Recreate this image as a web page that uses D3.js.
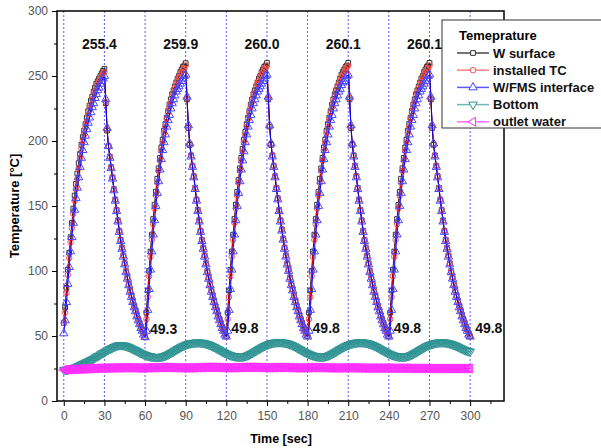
<!DOCTYPE html>
<html>
<head>
<meta charset="utf-8">
<script src="https://cdn.jsdelivr.net/npm/d3@7"></script>
<style>
  body { margin: 0; background: #fff; }
  svg { display: block; font-family: "Liberation Sans", Arial, sans-serif; }
</style>
</head>
<body>
<svg id="chart" width="601" height="448"></svg>
<script>
// all series sampled every 1 s, t = 0..300
const wSurface = [
  60, 72, 87, 101, 114, 126, 137, 148, 158, 167,
  175, 183, 190, 197, 203, 208, 213, 218, 223, 227,
  231, 234, 238, 241, 244, 246, 248, 250, 252, 254, 255.4,
  229, 208, 196, 188, 180, 172, 163, 155, 147, 139,
  131, 124, 118, 112, 106, 100, 95, 90, 85, 81,
  77, 73, 70, 66, 63, 60, 57, 55, 52, 49.3,
  68, 85, 100, 115, 128, 140, 151, 161, 171, 179,
  187, 195, 201, 208, 213, 218, 223, 228, 232, 236,
  239, 242, 245, 248, 250, 253, 255, 257, 258, 259.9,
  232, 210, 197, 189, 181, 173, 164, 155, 147, 139,
  131, 124, 118, 112, 106, 100, 95, 90, 85, 81,
  77, 73, 70, 66, 63, 60, 57, 55, 52, 49.8,
  68, 85, 101, 115, 128, 140, 151, 161, 170, 179,
  187, 194, 201, 207, 213, 218, 223, 228, 232, 236,
  239, 242, 245, 248, 250, 253, 255, 257, 258, 260.0,
  232, 211, 197, 189, 181, 173, 164, 156, 147, 139,
  132, 125, 118, 112, 106, 101, 95, 90, 86, 81,
  77, 73, 70, 66, 63, 60, 57, 55, 52, 49.8,
  68, 85, 100, 115, 128, 140, 151, 161, 171, 179,
  187, 195, 201, 208, 213, 218, 223, 228, 232, 236,
  239, 242, 245, 248, 251, 253, 255, 257, 258, 260.1,
  232, 210, 197, 189, 181, 173, 164, 155, 147, 139,
  131, 124, 118, 112, 106, 100, 95, 90, 85, 81,
  77, 73, 70, 66, 63, 60, 57, 55, 52, 49.8,
  68, 85, 101, 115, 128, 140, 151, 161, 171, 179,
  187, 195, 201, 208, 213, 218, 223, 228, 232, 236,
  239, 242, 245, 248, 250, 253, 255, 257, 258, 260.1,
  232, 210, 197, 189, 181, 173, 164, 155, 147, 139,
  131, 124, 118, 112, 106, 100, 95, 90, 85, 81,
  77, 73, 70, 66, 63, 60, 57, 55, 52, 49.8
];

const installedTC = [
  60, 68, 83, 97, 110, 122, 133, 144, 154, 163,
  171, 179, 187, 194, 200, 205, 210, 215, 220, 224,
  228, 232, 235, 238, 241, 244, 246, 248, 250, 252, 253,
  230, 209, 196, 188, 180, 172, 163, 155, 147, 139,
  131, 124, 118, 112, 106, 100, 95, 90, 85, 81,
  77, 73, 70, 66, 63, 60, 57, 54, 52, 49.2,
  63, 80, 96, 111, 124, 136, 148, 158, 168, 177,
  185, 193, 199, 206, 211, 217, 222, 226, 230, 234,
  237, 241, 244, 246, 249, 251, 253, 255, 256, 258,
  233, 211, 198, 189, 181, 173, 164, 155, 147, 139,
  131, 124, 118, 112, 106, 100, 95, 90, 85, 81,
  77, 73, 70, 66, 63, 60, 57, 54, 52, 49.6,
  63, 80, 96, 111, 124, 137, 148, 158, 168, 177,
  185, 192, 199, 205, 211, 217, 222, 226, 230, 234,
  237, 241, 244, 246, 249, 251, 253, 255, 256, 258,
  233, 211, 198, 189, 181, 173, 164, 156, 147, 139,
  132, 125, 118, 112, 106, 101, 95, 90, 86, 81,
  77, 73, 70, 66, 63, 60, 57, 54, 52, 49.6,
  63, 80, 96, 111, 124, 136, 148, 158, 168, 177,
  185, 193, 199, 206, 211, 217, 222, 226, 230, 234,
  237, 241, 244, 246, 249, 251, 253, 255, 257, 258,
  233, 211, 198, 189, 181, 173, 164, 155, 147, 139,
  131, 124, 118, 112, 106, 100, 95, 90, 85, 81,
  77, 73, 70, 66, 63, 60, 57, 54, 52, 49.6,
  63, 80, 96, 111, 124, 136, 148, 158, 168, 177,
  185, 193, 199, 206, 211, 217, 222, 226, 230, 234,
  237, 241, 244, 246, 249, 251, 253, 255, 256, 258,
  233, 211, 198, 189, 181, 173, 164, 155, 147, 139,
  131, 124, 118, 112, 106, 100, 95, 90, 85, 81,
  77, 73, 70, 66, 63, 60, 57, 54, 52, 49.6
];

const wfmsInterface = [
  52, 62, 76, 90, 103, 115, 126, 137, 147, 156,
  164, 172, 180, 187, 193, 199, 204, 209, 214, 218,
  222, 226, 229, 233, 236, 239, 241, 244, 246, 248, 250,
  232, 210, 196, 187, 179, 171, 162, 154, 146, 138,
  130, 123, 117, 111, 105, 99, 94, 89, 84, 80,
  76, 72, 69, 65, 62, 59, 56, 54, 51, 49.0,
  54, 70, 86, 101, 115, 128, 139, 150, 160, 169,
  178, 186, 193, 199, 205, 211, 216, 220, 225, 229,
  232, 235, 238, 240, 242, 244, 246, 248, 250, 251,
  234, 212, 198, 188, 180, 172, 163, 154, 146, 138,
  130, 123, 117, 111, 105, 99, 94, 89, 84, 80,
  76, 72, 69, 65, 62, 59, 56, 54, 51, 49.5,
  54, 70, 86, 101, 115, 128, 139, 150, 160, 169,
  178, 185, 192, 199, 205, 211, 216, 220, 225, 229,
  232, 235, 238, 240, 242, 244, 246, 248, 250, 251,
  234, 212, 198, 188, 180, 172, 163, 155, 146, 138,
  131, 124, 117, 111, 105, 100, 94, 89, 85, 80,
  76, 72, 69, 65, 62, 59, 56, 54, 51, 49.5,
  54, 70, 86, 101, 115, 128, 139, 150, 160, 169,
  178, 186, 193, 199, 205, 211, 216, 220, 225, 229,
  232, 235, 238, 240, 243, 245, 246, 248, 250, 251,
  234, 212, 198, 188, 180, 172, 163, 154, 146, 138,
  130, 123, 117, 111, 105, 99, 94, 89, 84, 80,
  76, 72, 69, 65, 62, 59, 56, 54, 51, 49.5,
  54, 70, 86, 101, 115, 128, 139, 150, 160, 169,
  178, 186, 193, 199, 205, 211, 216, 220, 225, 229,
  232, 235, 238, 240, 242, 244, 246, 248, 250, 251,
  234, 212, 198, 188, 180, 172, 163, 154, 146, 138,
  130, 123, 117, 111, 105, 99, 94, 89, 84, 80,
  76, 72, 69, 65, 62, 59, 56, 54, 51, 49.5
];

const bottom = [
  24.0, 24.0, 24.0, 24.2, 24.5, 24.7, 25.0, 25.2, 25.5, 26.0,
  26.5, 27.0, 27.5, 28.0, 28.5, 29.0, 29.5, 30.0, 30.5, 31.0,
  31.5, 32.0, 32.5, 33.2, 34.0, 34.5, 35.0, 35.8, 36.5, 37.0,
  37.5, 38.2, 39.0, 39.5, 40.0, 40.5, 41.0, 41.5, 42.0, 42.4,
  42.8, 42.9, 43.0, 42.9, 42.8, 42.6, 42.3, 41.9, 41.5, 41.0,
  40.5, 40.0, 39.5, 39.0, 38.5, 37.9, 37.3, 36.8, 36.3, 35.9,
  35.5, 35.1, 34.8, 34.5, 34.3, 34.1, 34.0, 33.9, 33.8, 33.8,
  33.8, 33.9, 34.0, 34.2, 34.5, 34.9, 35.3, 35.8, 36.3, 36.9,
  37.5, 38.1, 38.7, 39.3, 40.0, 40.6, 41.2, 41.7, 42.3, 42.7,
  43.2, 43.6, 44.0, 44.2, 44.5, 44.6, 44.8, 44.9, 45.0, 45.0,
  45.0, 44.9, 44.8, 44.6, 44.4, 44.1, 43.8, 43.4, 43.0, 42.5,
  42.0, 41.5, 41.0, 40.4, 39.8, 39.2, 38.6, 38.0, 37.5, 37.0,
  36.5, 36.0, 35.6, 35.2, 34.9, 34.6, 34.4, 34.2, 34.1, 34.0,
  34.0, 34.0, 34.1, 34.3, 34.5, 34.8, 35.2, 35.7, 36.2, 36.8,
  37.4, 38.0, 38.6, 39.2, 39.9, 40.5, 41.1, 41.7, 42.2, 42.7,
  43.2, 43.6, 44.0, 44.3, 44.6, 44.8, 45.0, 45.1, 45.2, 45.2,
  45.2, 45.1, 45.0, 44.8, 44.6, 44.3, 44.0, 43.6, 43.2, 42.7,
  42.2, 41.7, 41.1, 40.5, 39.9, 39.3, 38.7, 38.1, 37.6, 37.1,
  36.6, 36.1, 35.7, 35.3, 35.0, 34.7, 34.4, 34.2, 34.1, 34.0,
  34.0, 34.0, 34.1, 34.3, 34.5, 34.8, 35.2, 35.7, 36.2, 36.8,
  37.4, 38.0, 38.6, 39.2, 39.9, 40.5, 41.1, 41.7, 42.2, 42.7,
  43.1, 43.5, 43.9, 44.2, 44.5, 44.7, 44.9, 45.0, 45.1, 45.1,
  45.1, 45.0, 44.9, 44.7, 44.5, 44.2, 43.9, 43.5, 43.1, 42.6,
  42.1, 41.6, 41.0, 40.4, 39.8, 39.2, 38.6, 38.0, 37.5, 37.0,
  36.5, 36.0, 35.6, 35.2, 34.9, 34.6, 34.4, 34.2, 34.1, 34.0,
  34.0, 34.0, 34.1, 34.3, 34.5, 34.8, 35.2, 35.7, 36.2, 36.8,
  37.4, 38.0, 38.6, 39.2, 39.9, 40.5, 41.1, 41.7, 42.2, 42.7,
  43.1, 43.5, 43.9, 44.2, 44.5, 44.7, 44.9, 45.0, 45.1, 45.1,
  45.1, 45.0, 44.9, 44.7, 44.5, 44.2, 43.9, 43.5, 43.1, 42.7,
  42.2, 41.7, 41.2, 40.7, 40.2, 39.7, 39.3, 38.9, 38.5, 38.2,
  38.0
];

const outletWater = [
  24.0, 24.0, 24.1, 24.1, 24.2, 24.2, 24.3, 24.3, 24.4, 24.4,
  24.5, 24.5, 24.6, 24.6, 24.7, 24.7, 24.8, 24.8, 24.9, 24.9,
  25.0, 25.0, 25.1, 25.1, 25.1, 25.2, 25.2, 25.2, 25.3, 25.3,
  25.3, 25.3, 25.4, 25.4, 25.4, 25.4, 25.4, 25.4, 25.5, 25.5,
  25.5, 25.5, 25.5, 25.6, 25.6, 25.6, 25.6, 25.6, 25.6, 25.6,
  25.5, 25.5, 25.5, 25.5, 25.4, 25.4, 25.4, 25.4, 25.4, 25.4,
  25.5, 25.5, 25.5, 25.6, 25.6, 25.6, 25.7, 25.7, 25.7, 25.7,
  25.8, 25.8, 25.8, 25.8, 25.8, 25.8, 25.8, 25.8, 25.7, 25.7,
  25.7, 25.7, 25.6, 25.6, 25.6, 25.6, 25.5, 25.5, 25.5, 25.5,
  25.5, 25.5, 25.5, 25.5, 25.5, 25.6, 25.6, 25.6, 25.7, 25.7,
  25.7, 25.8, 25.8, 25.8, 25.9, 25.9, 25.9, 25.9, 25.9, 25.9,
  25.9, 25.9, 25.8, 25.8, 25.8, 25.7, 25.7, 25.7, 25.6, 25.6,
  25.6, 25.6, 25.6, 25.6, 25.6, 25.6, 25.6, 25.7, 25.7, 25.7,
  25.8, 25.8, 25.8, 25.9, 25.9, 25.9, 25.9, 25.9, 25.9, 25.9,
  25.9, 25.9, 25.8, 25.8, 25.8, 25.7, 25.7, 25.7, 25.6, 25.6,
  25.6, 25.6, 25.6, 25.6, 25.7, 25.7, 25.7, 25.8, 25.8, 25.8,
  25.8, 25.8, 25.8, 25.8, 25.8, 25.7, 25.7, 25.7, 25.6, 25.6,
  25.6, 25.5, 25.5, 25.5, 25.5, 25.5, 25.5, 25.5, 25.6, 25.6,
  25.6, 25.6, 25.7, 25.7, 25.7, 25.7, 25.7, 25.7, 25.7, 25.7,
  25.6, 25.6, 25.6, 25.6, 25.5, 25.5, 25.5, 25.5, 25.4, 25.4,
  25.4, 25.4, 25.4, 25.4, 25.4, 25.5, 25.5, 25.5, 25.5, 25.5,
  25.5, 25.5, 25.5, 25.5, 25.5, 25.5, 25.5, 25.4, 25.4, 25.4,
  25.4, 25.3, 25.3, 25.3, 25.3, 25.3, 25.3, 25.3, 25.3, 25.3,
  25.3, 25.3, 25.3, 25.3, 25.3, 25.3, 25.3, 25.3, 25.3, 25.3,
  25.3, 25.3, 25.2, 25.2, 25.2, 25.2, 25.2, 25.2, 25.2, 25.2,
  25.2, 25.2, 25.2, 25.2, 25.2, 25.1, 25.1, 25.1, 25.1, 25.1,
  25.1, 25.1, 25.1, 25.1, 25.1, 25.1, 25.1, 25.1, 25.1, 25.1,
  25.1, 25.0, 25.0, 25.0, 25.0, 25.0, 25.0, 25.0, 25.0, 25.0,
  25.0, 25.0, 25.0, 25.0, 25.0, 25.0, 25.0, 25.0, 25.0, 25.0,
  25.0, 25.0, 25.0, 25.0, 25.0, 25.0, 25.0, 25.0, 25.0, 25.0,
  25.0
];

const peakTimes = [30, 90, 150, 210, 270];
const peakLabels = ['255.4', '259.9', '260.0', '260.1', '260.1'];
const minTimes = [60, 120, 180, 240, 300];
const minValues = [49.3, 49.8, 49.8, 49.8, 49.8];
const minLabels = ['49.3', '49.8', '49.8', '49.8', '49.8'];

const xTicks = d3.range(0, 301, 30);
const yTicks = d3.range(0, 301, 50);

const svg = d3.select('#chart');
const plot = { left: 57, top: 11, right: 504, bottom: 401 };

const x = d3.scaleLinear().domain([-5, 325]).range([plot.left, plot.right]);
const y = d3.scaleLinear().domain([0, 300]).range([plot.bottom, plot.top]);

const toPoints = (values) => values.map((v, i) => [i, v]);

const series = [
  { name: 'W surface', pts: toPoints(wSurface), line: '#000', mark: '#333', lgLine: '#444', symbol: d3.symbolSquare, size: 22, rot: 0 },
  { name: 'installed TC', pts: toPoints(installedTC), line: '#e00', mark: '#ff5050', lgLine: '#ff8080', symbol: d3.symbolCircle, size: 24, rot: 0 },
  { name: 'W/FMS interface', pts: toPoints(wfmsInterface), line: '#00f', mark: '#4848ff', lgLine: '#5a5aff', symbol: d3.symbolTriangle, size: 30, rot: 0 },
  { name: 'Bottom', pts: toPoints(bottom), line: '#2a8a8a', mark: '#2f9393', lgLine: '#70b8b8', symbol: d3.symbolTriangle, size: 32, rot: 180 },
  { name: 'outlet water', pts: toPoints(outletWater), line: '#f0f', mark: '#ff2cff', lgLine: '#ff70ff', symbol: d3.symbolTriangle, size: 34, rot: -90 }
];

svg.append('defs').append('clipPath').attr('id', 'clip')
  .append('rect')
  .attr('x', plot.left).attr('y', plot.top)
  .attr('width', plot.right - plot.left).attr('height', plot.bottom - plot.top);

// dotted vertical lines every 30 s
svg.append('g')
  .selectAll('line')
  .data(xTicks)
  .enter()
  .append('line')
  .attr('x1', (d) => x(d)).attr('x2', (d) => x(d))
  .attr('y1', plot.top).attr('y2', plot.bottom)
  .attr('stroke', '#5a5aff')
  .attr('stroke-width', 1)
  .attr('stroke-dasharray', '2,2');

const data = svg.append('g').attr('clip-path', 'url(#clip)');
const line = d3.line().x((d) => x(d[0])).y((d) => y(d[1]));

// the slow curves first, then the three cycling ones on top
[3, 4, 0, 1, 2].forEach((k) => {
  const s = series[k];
  data.append('path')
    .attr('d', line(s.pts))
    .attr('fill', 'none')
    .attr('stroke', s.line)
    .attr('stroke-width', 1);
  data.append('g')
    .selectAll('path')
    .data(s.pts)
    .enter()
    .append('path')
    .attr('d', d3.symbol().type(s.symbol).size(s.size))
    .attr('transform', (d) => `translate(${x(d[0])},${y(d[1])}) rotate(${s.rot})`)
    .attr('fill', 'none')
    .attr('stroke', s.mark)
    .attr('stroke-width', 1);
});

// axes
const tickStyle = (g) => {
  g.select('.domain').remove();
  g.selectAll('.tick line').attr('stroke', '#000').attr('stroke-width', 1);
  g.selectAll('.tick text').attr('fill', '#555').attr('font-size', 12);
};

svg.append('g')
  .attr('transform', `translate(0,${plot.bottom})`)
  .call(d3.axisBottom(x).tickValues(xTicks).tickSize(5).tickPadding(5))
  .call(tickStyle);
svg.append('g')
  .attr('transform', `translate(0,${plot.bottom})`)
  .call(d3.axisBottom(x).tickValues(d3.range(15, 316, 30)).tickSize(3).tickFormat(''))
  .call(tickStyle);
svg.append('g')
  .attr('transform', `translate(${plot.left},0)`)
  .call(d3.axisLeft(y).tickValues(yTicks).tickSize(5).tickPadding(4))
  .call(tickStyle);
svg.append('g')
  .attr('transform', `translate(${plot.left},0)`)
  .call(d3.axisLeft(y).tickValues(d3.range(25, 300, 50)).tickSize(3).tickFormat(''))
  .call(tickStyle);

svg.append('rect')
  .attr('x', plot.left).attr('y', plot.top)
  .attr('width', plot.right - plot.left).attr('height', plot.bottom - plot.top)
  .attr('fill', 'none')
  .attr('stroke', '#000')
  .attr('stroke-width', 1.5);

// annotations
svg.append('g')
  .selectAll('text')
  .data(peakTimes)
  .enter()
  .append('text')
  .attr('x', (d) => x(d) - 5)
  .attr('y', 49)
  .attr('text-anchor', 'middle')
  .attr('font-size', 14)
  .attr('font-weight', 'bold')
  .attr('fill', '#111')
  .text((d, i) => peakLabels[i]);

svg.append('g')
  .selectAll('text')
  .data(minTimes)
  .enter()
  .append('text')
  .attr('x', (d) => x(d) + 5)
  .attr('y', (d, i) => y(minValues[i]) - 3)
  .attr('font-size', 14)
  .attr('font-weight', 'bold')
  .attr('fill', '#111')
  .text((d, i) => minLabels[i]);

svg.append('text')
  .attr('transform', `translate(19,${(plot.top + plot.bottom) / 2}) rotate(-90)`)
  .attr('text-anchor', 'middle')
  .attr('font-size', 13)
  .attr('font-weight', 'bold')
  .text('Temperature [°C]');

svg.append('text')
  .attr('x', 281)
  .attr('y', 443)
  .attr('text-anchor', 'middle')
  .attr('font-size', 12.5)
  .attr('font-weight', 'bold')
  .text('Time [sec]');

// legend
const legend = svg.append('g');
legend.append('rect')
  .attr('x', 442).attr('y', 20)
  .attr('width', 170).attr('height', 108)
  .attr('fill', '#fff')
  .attr('stroke', '#333')
  .attr('stroke-width', 1);
legend.append('text')
  .attr('x', 459).attr('y', 40)
  .attr('font-size', 13)
  .attr('font-weight', 'bold')
  .text('Temeprature');

const rows = legend.selectAll('g.row')
  .data(series)
  .enter()
  .append('g')
  .attr('class', 'row')
  .attr('transform', (d, i) => `translate(0,${53 + i * 17.2})`);
rows.append('line')
  .attr('x1', 457).attr('x2', 489)
  .attr('stroke', (d) => d.lgLine)
  .attr('stroke-width', 1.5);
rows.append('path')
  .attr('d', (d) => d3.symbol().type(d.symbol).size(d.size)())
  .attr('transform', (d) => `translate(473,0) rotate(${d.rot})`)
  .attr('fill', '#fff')
  .attr('stroke', (d) => d.mark)
  .attr('stroke-width', 1);
rows.append('text')
  .attr('x', 493).attr('y', 4.5)
  .attr('font-size', 13)
  .attr('font-weight', 'bold')
  .attr('fill', '#111')
  .text((d) => d.name);
</script>
</body>
</html>
